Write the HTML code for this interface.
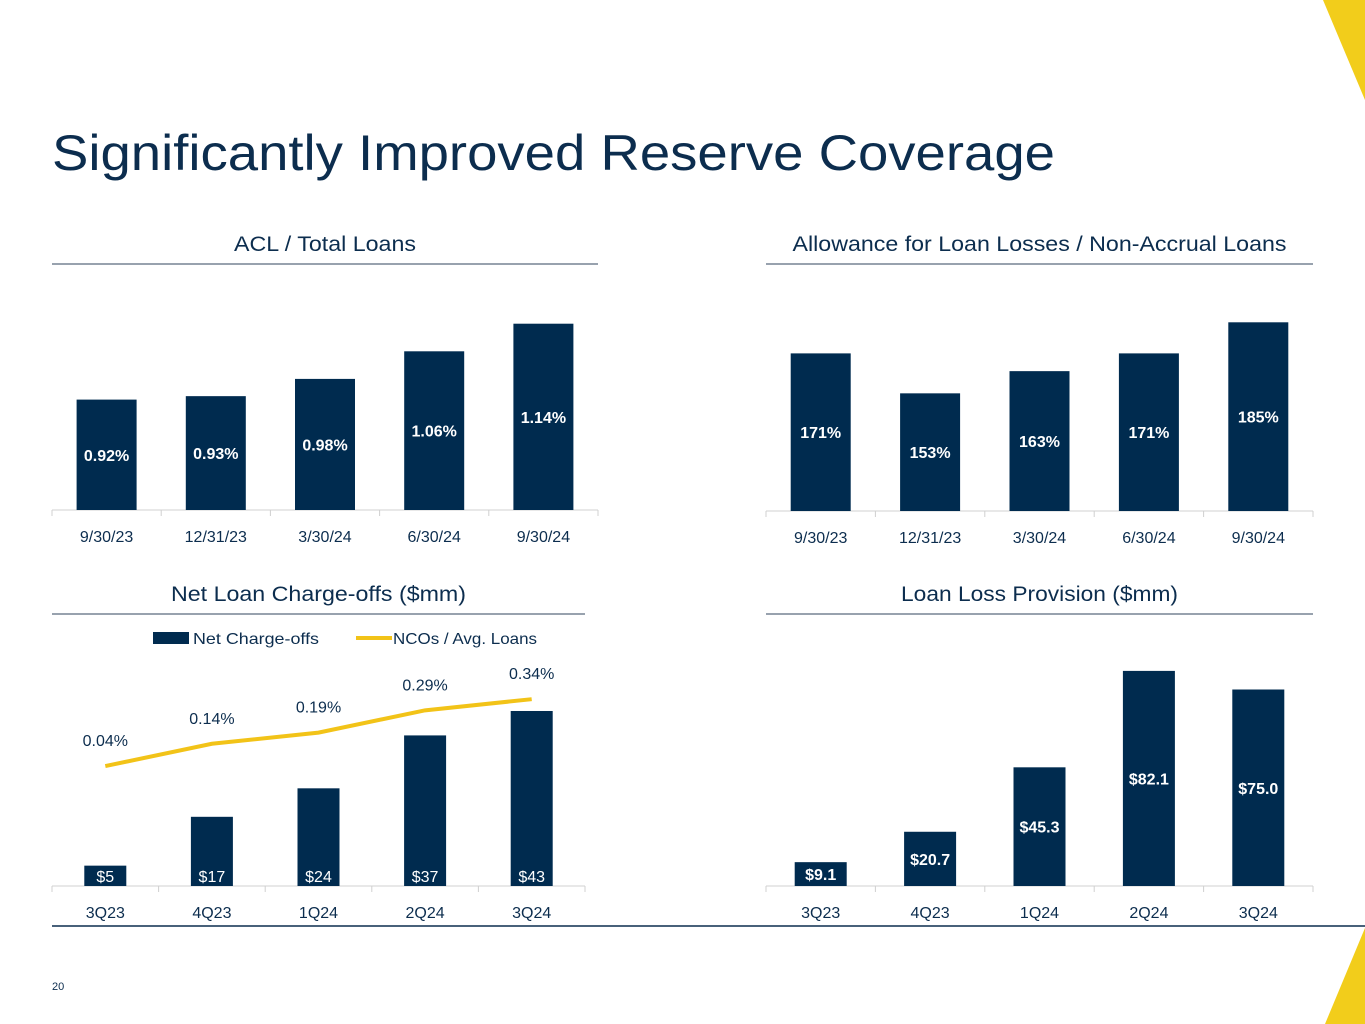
<!DOCTYPE html>
<html><head><meta charset="utf-8"><style>
body{margin:0;width:1365px;height:1024px;background:#fff;overflow:hidden;font-family:"Liberation Sans",sans-serif}
svg{position:absolute;left:0;top:0}
</style></head><body>
<svg id="s" width="1365" height="1024" font-family="Liberation Sans, sans-serif">
<polygon points="1323,0 1365,0 1365,100" fill="#f2cd1b"/>
<polygon points="1365,928 1365,1024 1325,1024" fill="#f2cd1b"/>
<text x="52" y="170" font-size="50" fill="#0c2d4e" textLength="1003" lengthAdjust="spacingAndGlyphs">Significantly Improved Reserve Coverage</text>
<line x1="52" y1="926" x2="1365" y2="926" stroke="#0c2d4e" stroke-width="1.5"/>
<text x="52" y="990" font-size="11" fill="#0c2d4e">20</text>
<g id="g"></g>
</svg>
<script>
const NAVY="#002b4f",TXT="#0c2d4e";
const cat1=["9/30/23","12/31/23","3/30/24","6/30/24","9/30/24"];
const acl=[0.92,0.93,0.98,1.06,1.14];
const allowance=[171,153,163,171,185];
const catQ=["3Q23","4Q23","1Q24","2Q24","3Q24"];
const nco=[5,17,24,37,43];
const ncoRatio=[0.04,0.14,0.19,0.29,0.34];
const provision=[9.1,20.7,45.3,82.1,75.0];
const aclLbl=["0.92%","0.93%","0.98%","1.06%","1.14%"];
const allowLbl=["171%","153%","163%","171%","185%"];
const ncoLbl=["$5","$17","$24","$37","$43"];
const ratioLbl=["0.04%","0.14%","0.19%","0.29%","0.34%"];
const provLbl=["$9.1","$20.7","$45.3","$82.1","$75.0"];
const g=document.getElementById('g');const NS="http://www.w3.org/2000/svg";
function el(t,a,txt){const e=document.createElementNS(NS,t);for(const k in a)e.setAttribute(k,a[k]);if(txt!==undefined)e.textContent=txt;g.appendChild(e);return e;}
function panel(name,title,tw,x0,x1,ty,ly,base,cats,vals,lbls,yf,bw,lblY,bold){
 let t=el('text',{x:(x0+x1)/2,y:ty,'font-size':21,fill:TXT,'text-anchor':'middle',textLength:tw,lengthAdjust:'spacingAndGlyphs'},title);
 
 
 let l=el('line',{x1:x0,y1:ly,x2:x1,y2:ly,stroke:'#5a6b7d','stroke-width':1.2});
 
 
 const step=(x1-x0)/cats.length;
 let ax=el('line',{x1:x0,y1:base,x2:x1,y2:base,stroke:'#d0d0d0','stroke-width':1});
 
 
 for(let i=0;i<=cats.length;i++){let tk=el('line',{x1:x0+i*step,y1:base,x2:x0+i*step,y2:base+6,stroke:'#d0d0d0'});
 
 }
 vals.forEach((v,i)=>{const cx=x0+step*(i+.5),top=yf(v);
  let b=el('rect',{x:cx-bw/2,y:top,width:bw,height:base-top,fill:NAVY});
  
  
  let ly2=lblY===null?(top+base)/2+6:lblY;
  let tl=el('text',{x:cx,y:ly2,'font-size':16,fill:'#fff','text-anchor':'middle','font-weight':bold?'bold':'normal'},lbls[i]);
  
  
  let c=el('text',{x:cx,y:base+32,'font-size':16,fill:TXT,'text-anchor':'middle'},cats[i]);
  
  
 });
 return step;
}
panel('acl-chart','ACL / Total Loans',182,52,598,251,264,510,cat1,acl,aclLbl,v=>510-(v-0.6)*345,60,null,true);
panel('allowance-chart','Allowance for Loan Losses / Non-Accrual Loans',494,766,1313,251,264,511,cat1,allowance,allowLbl,v=>511-(v-100)*2.22,60,null,true);
const st=panel('nco-chart','Net Loan Charge-offs ($mm)',295,52,585,601,614,886,catQ,nco,ncoLbl,v=>886-v*4.07,42,882,false);
panel('provision-chart','Loan Loss Provision ($mm)',277,766,1313,601,614,886,catQ,provision,provLbl,v=>886-v*2.62,52,null,true);
const ry=v=>775-v*223;
const pts=ncoRatio.map((v,i)=>(52+st*(i+.5))+','+ry(v)).join(' ');
let pl=el('polyline',{points:pts,fill:'none',stroke:'#f2c318','stroke-width':4});


ncoRatio.forEach((v,i)=>{let t=el('text',{x:52+st*(i+.5),y:ry(v)-20,'font-size':16,fill:TXT,'text-anchor':'middle'},ratioLbl[i]);
 
 });
let r=el('rect',{x:153,y:632,width:36,height:12,fill:NAVY});


let t1=el('text',{x:193,y:644,'font-size':16,fill:TXT,textLength:126,lengthAdjust:'spacingAndGlyphs'},'Net Charge-offs');


let ll=el('line',{x1:356,y1:638,x2:392,y2:638,stroke:'#f2c318','stroke-width':4});


let t2=el('text',{x:393,y:644,'font-size':16,fill:TXT,textLength:144,lengthAdjust:'spacingAndGlyphs'},'NCOs / Avg. Loans');


</script>
</body></html>
